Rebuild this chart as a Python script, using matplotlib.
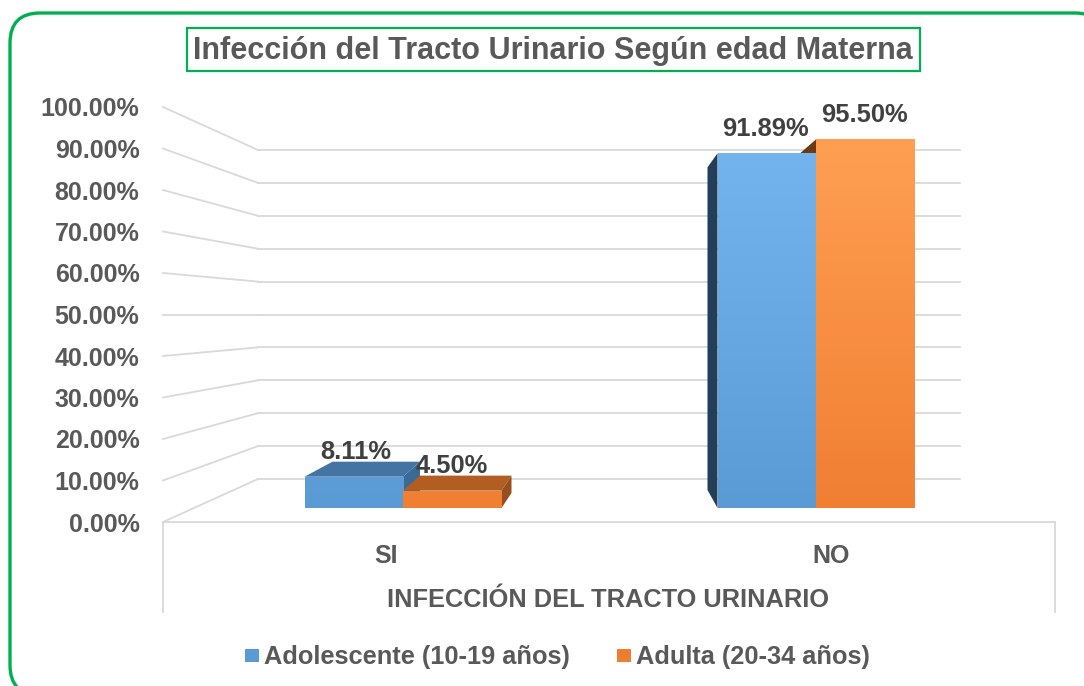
import numpy as np
import matplotlib
matplotlib.use("Agg")
import matplotlib.pyplot as plt
from matplotlib.patches import FancyBboxPatch, Polygon, Rectangle
from matplotlib.colors import LinearSegmentedColormap

categories = ["SI", "NO"]
adolescente = [8.11, 91.89]
adulta = [4.50, 95.50]
series_names = ["Adolescente (10-19 años)", "Adulta (20-34 años)"]
tick_values = [0, 10, 20, 30, 40, 50, 60, 70, 80, 90, 100]
title = "Infección del Tracto Urinario Según edad Materna"
xlabel = "INFECCIÓN DEL TRACTO URINARIO"

W, H = 1084, 686
GRAY = "#595959"
DARK = "#404040"
plt.rcParams["font.family"] = ["Liberation Sans", "DejaVu Sans"]
fig = plt.figure(figsize=(W / 100, H / 100), dpi=100)

def rect(x0, ytop, x1, ybot):
    return [x0 / W, 1 - ybot / H, (x1 - x0) / W, (ybot - ytop) / H]

# pixel-coordinate background for the frame and the chart walls
bg = fig.add_axes([0, 0, 1, 1])
bg.set_xlim(0, W); bg.set_ylim(H, 0); bg.axis("off")
bg.add_patch(FancyBboxPatch((10, 13), 1095, 682, boxstyle="round,pad=0,rounding_size=30",
                            fc="white", ec="#00b050", lw=2.4, zorder=1))
bg.add_patch(Rectangle((187, 28), 733, 43, fc="white", ec="#00b050", lw=1.6, zorder=2))
bg.text(553, 51, title, ha="center", va="center", fontsize=22, fontweight="bold",
        color=GRAY, zorder=3)

GRID = "#d9d9d9"
for v in tick_values:
    fy = 522 - v * 4.15
    by = 479 - v * 3.29
    bg.plot([163, 258], [fy, by], color=GRID, lw=1.3, zorder=2)
    bg.plot([258, 960], [by, by], color=GRID, lw=1.3, zorder=2)
bg.plot([163, 1055], [522, 522], color=GRID, lw=1.3, zorder=2)
bg.plot([163, 163], [522, 612], color=GRID, lw=1.3, zorder=2)
bg.plot([1055, 1055], [522, 612], color=GRID, lw=1.3, zorder=2)

# value axis: front plane of the left wall
wall = fig.add_axes(rect(163, 107, 258, 522), facecolor="none")
wall.set_ylim(0, 100)
wall.set_xticks([])
wall.set_yticks(tick_values)
wall.set_yticklabels([f"{v:.2f}%" for v in tick_values], fontsize=18, fontweight="bold", color=GRAY)
wall.tick_params(axis="y", length=0, pad=17)
for s in wall.spines.values():
    s.set_visible(False)

# bars: one unit on x is the distance between categories
PX_X, PX_Y = 413.0, 3.86
ax = fig.add_axes([0, 0, 1, 1], facecolor="none")
ax.axis("off")
x = np.arange(len(categories))
bw = 98.5 / PX_X
dx = lambda px: px / PX_X
dy = lambda px: px / PX_Y

blue_map = LinearSegmentedColormap.from_list("b", ["#5b9bd5", "#74b5f0"])
orange_map = LinearSegmentedColormap.from_list("o", ["#f07f32", "#ff9f52"])
grad = np.linspace(0, 1, 256).reshape(-1, 1)

def poly(pts, color, z):
    ax.add_patch(Polygon(pts, closed=True, fc=color, ec="none", zorder=z))

# depth faces
poly([(x[0] - bw, adolescente[0]), (x[0] - bw + dx(28), adolescente[0] + dy(15)),
      (x[0] + dx(17), adolescente[0] + dy(15)), (x[0], adolescente[0])], "#4474a1", 3)
poly([(x[0], adolescente[0]), (x[0] + dx(17), adolescente[0] + dy(15)),
      (x[0] + dx(17), dy(15)), (x[0], 0)], "#3a6a96", 3)
poly([(x[0], adulta[0]), (x[0] + dx(17), adulta[0] + dy(15)),
      (x[0] + bw + dx(10), adulta[0] + dy(15)), (x[0] + bw, adulta[0])], "#b25d22", 4)
poly([(x[0] + bw, adulta[0]), (x[0] + bw + dx(10), adulta[0] + dy(15)),
      (x[0] + bw + dx(10), dy(15)), (x[0] + bw, 0)], "#96501d", 4)
poly([(x[1] - bw, adolescente[1]), (x[1] - bw - dx(10), adolescente[1] - dy(14)),
      (x[1] - bw - dx(10), dy(18)), (x[1] - bw, 0)], "#223f59", 3)
poly([(x[1] - dx(16), adolescente[1]), (x[1], adulta[1]), (x[1], adolescente[1])], "#6e3a12", 3)

# front faces with a shared height gradient
for vals, cmap, off in [(adolescente, blue_map, -bw / 2), (adulta, orange_map, bw / 2)]:
    bars = ax.bar(x + off, vals, bw, color="none", zorder=5)
    for b in bars:
        im = ax.imshow(grad, cmap=cmap, origin="lower", aspect="auto", zorder=5,
                       extent=(b.get_x(), b.get_x() + bw, 0, max(adulta)))
        im.set_clip_path(Rectangle((b.get_x(), 0), bw, b.get_height(), transform=ax.transData))
ax.set_xlim((0 - 403) / PX_X, (W - 403) / PX_X)
ax.set_ylim((508 - H) / PX_Y, 508 / PX_Y)

# data labels
lab = dict(ha="center", va="center", fontsize=18.4, fontweight="bold", color=DARK, zorder=7)
ax.text(x[0] - bw / 2 + dx(2), adolescente[0] + dy(25), f"{adolescente[0]:.2f}%", **lab)
ax.text(x[0] + bw / 2 - dx(1), adulta[0] + dy(25), f"{adulta[0]:.2f}%", **lab)
ax.text(x[1] - bw / 2 - dx(1), adolescente[1] + dy(24), f"{adolescente[1]:.2f}%", **lab)
ax.text(x[1] + bw / 2 - dx(1), adulta[1] + dy(24), f"{adulta[1]:.2f}%", **lab)

# category labels, axis title, legend
for xi, c in zip(x, categories):
    ax.text(xi + (-17 if xi == 0 else 15) / PX_X, dy(508 - 556), c, ha="center", va="center",
            fontsize=18, fontweight="bold", color=GRAY, zorder=7)
bg.text(608, 600, xlabel, ha="center", va="center", fontsize=18.3, fontweight="bold", color=GRAY, zorder=3)
bg.add_patch(Rectangle((245, 649), 14, 13, fc="#5b9bd5", ec="none", zorder=3))
bg.text(264, 657, series_names[0], ha="left", va="center", fontsize=18.3, fontweight="bold", color=GRAY, zorder=3)
bg.add_patch(Rectangle((617, 649), 14, 13, fc="#ed7d31", ec="none", zorder=3))
bg.text(636, 657, series_names[1], ha="left", va="center", fontsize=18.3, fontweight="bold", color=GRAY, zorder=3)

fig.savefig("out.png", dpi=100)
